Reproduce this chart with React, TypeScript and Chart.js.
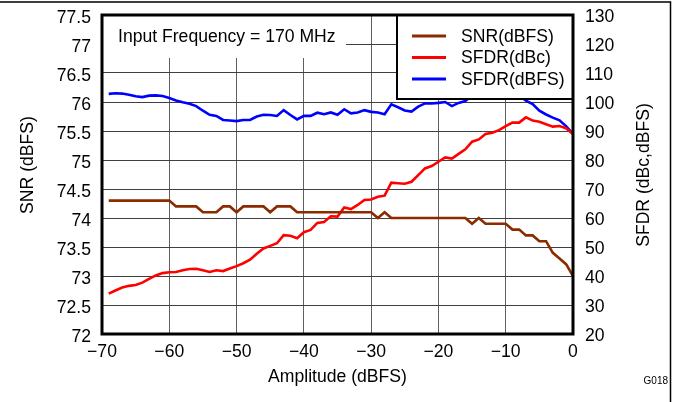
import React, { useEffect, useRef } from 'react';
import { Chart, registerables } from 'chart.js';

Chart.register(...registerables);

// ---------- data ----------
const amplitude = [
  -69, -68, -67, -66, -65, -64, -63, -62, -61, -60,
  -59, -58, -57, -56, -55, -54, -53, -52, -51, -50,
  -49, -48, -47, -46, -45, -44, -43, -42, -41, -40,
  -39, -38, -37, -36, -35, -34, -33, -32, -31, -30,
  -29, -28, -27, -26, -25, -24, -23, -22, -21, -20,
  -19, -18, -17, -16, -15, -14, -13, -12, -11, -10,
  -9, -8, -7, -6, -5, -4, -3, -2, -1, 0,
];

const snrDbfs = [
  74.3, 74.3, 74.3, 74.3, 74.3, 74.3, 74.3, 74.3, 74.3, 74.3,
  74.2, 74.2, 74.2, 74.2, 74.1, 74.1, 74.1, 74.2, 74.2, 74.1,
  74.2, 74.2, 74.2, 74.2, 74.1, 74.2, 74.2, 74.2, 74.1, 74.1,
  74.1, 74.1, 74.1, 74.1, 74.1, 74.1, 74.1, 74.1, 74.1, 74.1,
  74.0, 74.1, 74.0, 74.0, 74.0, 74.0, 74.0, 74.0, 74.0, 74.0,
  74.0, 74.0, 74.0, 74.0, 73.9, 74.0, 73.9, 73.9, 73.9, 73.9,
  73.8, 73.8, 73.7, 73.7, 73.6, 73.6, 73.4, 73.3, 73.2, 73.0,
];

const sfdrDbc = [
  33.9, 35.0, 36.0, 36.6, 36.9, 37.7, 39.0, 40.2, 41.0, 41.3,
  41.4, 42.0, 42.4, 42.5, 42.0, 41.4, 42.0, 41.7, 42.6, 43.4,
  44.4, 45.6, 47.7, 49.5, 50.4, 51.3, 54.1, 53.9, 53.0, 55.1,
  55.9, 58.3, 58.6, 60.6, 60.5, 63.6, 63.1, 64.5, 66.2, 66.4,
  67.3, 67.7, 72.2, 72.0, 71.8, 72.5, 74.8, 77.1, 77.9, 79.4,
  80.9, 80.5, 82.1, 83.7, 86.3, 87.1, 89.0, 89.4, 90.3, 91.7,
  92.9, 92.9, 94.7, 93.6, 93.2, 92.3, 91.5, 91.7, 90.9, 89.0,
];

const sfdrDbfs = [
  102.8, 103.0, 102.9, 102.5, 102.0, 101.7, 102.2, 102.3, 102.1, 101.4,
  100.5, 99.9, 99.4, 98.6, 97.0, 95.6, 95.2, 93.8, 93.6, 93.4,
  93.8, 93.8, 95.0, 95.6, 95.5, 95.2, 97.2, 95.5, 94.0, 95.2,
  95.2, 96.3, 95.8, 96.4, 95.6, 97.5, 96.1, 96.4, 97.2, 96.6,
  96.4, 95.8, 99.2, 98.2, 97.1, 96.7, 98.4, 99.5, 99.5, 99.7,
  100.0, 98.6, 99.7, 100.3, 102.3, 102.6, 103.0, 102.8, 102.7, 103.0,
  102.9, 102.4, 100.5, 99.3, 97.0, 95.7, 94.6, 93.7, 91.6, 89.0,
];

const xTickLabels = ['\u221270', '\u221260', '\u221250', '\u221240', '\u221230', '\u221220', '\u221210', '0'];
const leftTickLabels = ['72', '72.5', '73', '73.5', '74', '74.5', '75', '75.5', '76', '76.5', '77', '77.5'];
const rightTickLabels = ['20', '30', '40', '50', '60', '70', '80', '90', '100', '110', '120', '130'];

const seriesNames = ['SNR(dBFS)', 'SFDR(dBc)', 'SFDR(dBFS)'];
const seriesColors = ['#8c2a00', '#ff0000', '#0000ff'];

const annotationText = 'Input Frequency = 170 MHz';
const xTitle = 'Amplitude (dBFS)';
const leftTitle = 'SNR (dBFS)';
const rightTitle = 'SFDR (dBc,dBFS)';
const figureId = 'G018';

const FONT = "'Liberation Sans', Arial, Helvetica, sans-serif";
const FS = 17.6;

const noPad = (s: any) => {
  s.paddingTop = 0;
  s.paddingBottom = 0;
  s.paddingLeft = 0;
  s.paddingRight = 0;
};

const decorations = {
  id: 'decorations',
  afterDatasetsDraw(chart: any) {
    const { ctx, chartArea: ca } = chart;
    ctx.save();

    // annotation box
    ctx.fillStyle = '#ffffff';
    ctx.fillRect(ca.left, ca.top, 346 - ca.left, 58 - ca.top);
    ctx.fillStyle = '#000000';
    ctx.font = `${FS}px ${FONT}`;
    ctx.textAlign = 'left';
    ctx.textBaseline = 'middle';
    ctx.fillText(annotationText, 118, 37);

    // legend box
    const lx = 397, ly = ca.top, lw = ca.right - 397, lh = 99 - ca.top;
    ctx.fillStyle = '#ffffff';
    ctx.fillRect(lx, ly, lw, lh);
    ctx.strokeStyle = '#000000';
    ctx.lineWidth = 2;
    ctx.strokeRect(lx, ly, lw, lh);
    const rows = [36, 57.5, 79];
    seriesNames.forEach((name, i) => {
      ctx.strokeStyle = seriesColors[i];
      ctx.lineWidth = 3;
      ctx.beginPath();
      ctx.moveTo(412, rows[i]);
      ctx.lineTo(446, rows[i]);
      ctx.stroke();
      ctx.fillStyle = '#000000';
      ctx.fillText(name, 461, rows[i] + 1);
    });

    // plot frame
    ctx.strokeStyle = '#000000';
    ctx.lineWidth = 3;
    ctx.strokeRect(ca.left, ca.top, ca.right - ca.left, ca.bottom - ca.top);

    // axis titles
    ctx.fillStyle = '#000000';
    ctx.font = `${FS}px ${FONT}`;
    ctx.textAlign = 'center';
    ctx.textBaseline = 'middle';
    ctx.fillText(xTitle, (ca.left + ca.right) / 2, 377);

    ctx.save();
    ctx.translate(28, 165);
    ctx.rotate(-Math.PI / 2);
    ctx.fillText(leftTitle, 0, 0);
    ctx.restore();

    ctx.save();
    ctx.translate(644, 175);
    ctx.rotate(-Math.PI / 2);
    ctx.fillText(rightTitle, 0, 0);
    ctx.restore();

    // figure id
    ctx.font = `10px ${FONT}`;
    ctx.textAlign = 'right';
    ctx.fillText(figureId, 668, 381);

    // outer frame
    ctx.strokeStyle = '#000000';
    ctx.lineWidth = 1.5;
    ctx.beginPath();
    ctx.moveTo(0, 2);
    ctx.lineTo(670.5, 2);
    ctx.lineTo(670.5, 402);
    ctx.stroke();

    ctx.restore();
  },
};

export default function App() {
  const ref = useRef<HTMLCanvasElement | null>(null);

  useEffect(() => {
    if (!ref.current) return;
    const mk = (vals: number[]) => amplitude.map((a, i) => ({ x: a, y: vals[i] }));
    const chart = new Chart(ref.current, {
      type: 'line',
      data: {
        datasets: [
          {
            label: seriesNames[0],
            data: mk(snrDbfs),
            borderColor: seriesColors[0],
            borderWidth: 2.6,
            pointRadius: 0,
            tension: 0,
            yAxisID: 'y',
          },
          {
            label: seriesNames[1],
            data: mk(sfdrDbc),
            borderColor: seriesColors[1],
            borderWidth: 2.6,
            pointRadius: 0,
            tension: 0,
            yAxisID: 'y1',
          },
          {
            label: seriesNames[2],
            data: mk(sfdrDbfs),
            borderColor: seriesColors[2],
            borderWidth: 2.6,
            pointRadius: 0,
            tension: 0,
            yAxisID: 'y1',
          },
        ],
      },
      options: {
        animation: false,
        responsive: false,
        devicePixelRatio: 1,
        layout: { padding: { top: 15, left: 0, right: 0, bottom: 0 } },
        plugins: { legend: { display: false }, tooltip: { enabled: false } },
        scales: {
          x: {
            type: 'linear',
            min: -70,
            max: 0,
            afterFit: (s: any) => { s.height = 68; noPad(s); },
            grid: { color: '#606060', lineWidth: 1, drawTicks: false },
            border: { display: false },
            ticks: {
              stepSize: 10,
              autoSkip: false,
              maxRotation: 0,
              padding: 8,
              color: '#000000',
              font: { family: FONT, size: FS },
              callback: (_v: any, i: number) => xTickLabels[i],
            },
          },
          y: {
            type: 'linear',
            position: 'left',
            min: 72,
            max: 77.5,
            afterFit: (s: any) => { s.width = 102; noPad(s); },
            grid: { color: '#404040', lineWidth: 1, drawTicks: false },
            border: { display: false },
            ticks: {
              stepSize: 0.5,
              padding: 11,
              labelOffset: 3,
              color: '#000000',
              font: { family: FONT, size: FS },
              callback: (_v: any, i: number) => leftTickLabels[i],
            },
          },
          y1: {
            type: 'linear',
            position: 'right',
            min: 20,
            max: 130,
            afterFit: (s: any) => { s.width = 100; noPad(s); },
            grid: { display: false, drawTicks: false },
            border: { display: false },
            ticks: {
              stepSize: 10,
              padding: 12,
              labelOffset: 2,
              color: '#000000',
              font: { family: FONT, size: FS },
              callback: (_v: any, i: number) => rightTickLabels[i],
            },
          },
        },
      },
      plugins: [decorations],
    });
    return () => chart.destroy();
  }, []);

  return (
    <div style={{ position: 'fixed', left: 0, top: 0, width: 673, height: 402, background: '#ffffff' }}>
      <canvas ref={ref} width={673} height={402} style={{ display: 'block' }} />
    </div>
  );
}
